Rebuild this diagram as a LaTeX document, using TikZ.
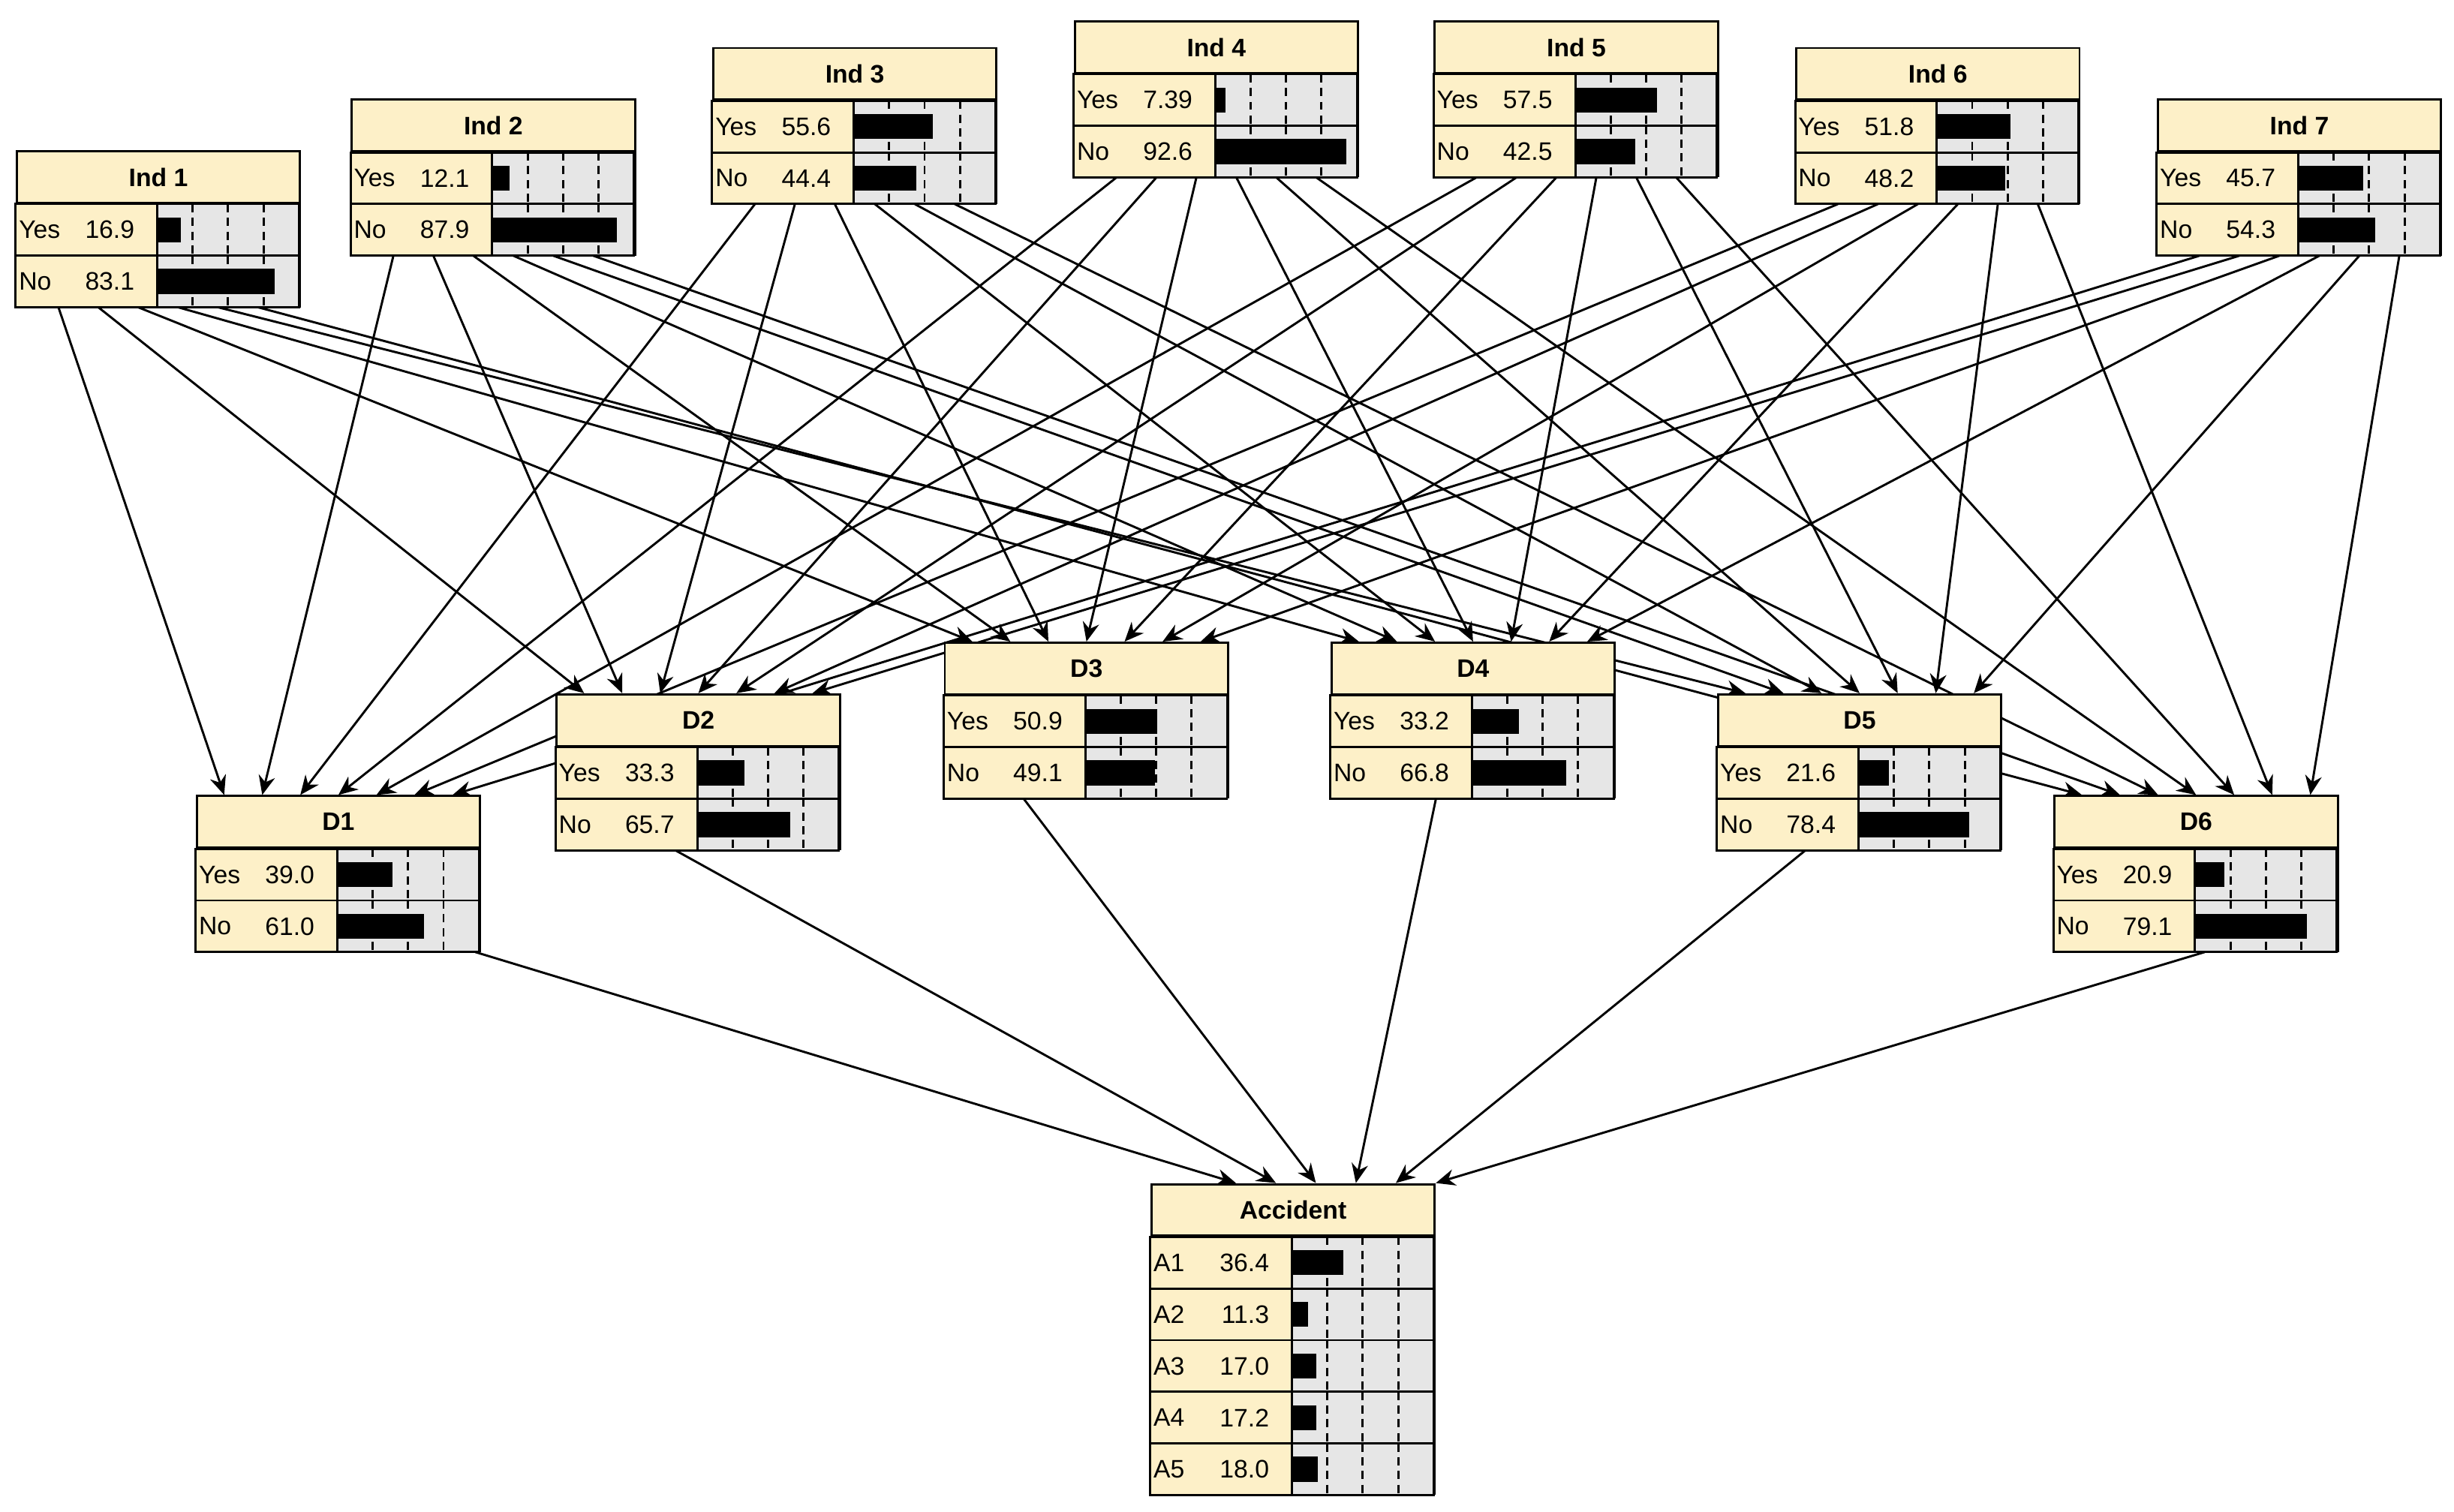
\documentclass[tikz,border=0pt]{standalone}
\usepackage{fontspec}
\setmainfont{Liberation Sans}
\usetikzlibrary{arrows.meta,calc,positioning,backgrounds}
\definecolor{cream}{HTML}{FDF0C8}
\definecolor{bargrey}{HTML}{E6E6E6}
\tikzset{frame/.style={
            draw,
            thick,
            inner sep=0pt,
            anchor=north west,
            minimum width=3.62cm
        },
        header/.style={
            draw,
            thick,
            fill=cream,
            inner sep=0pt,
            anchor=north west,
            minimum width=3.62cm,
            minimum height=0.66cm,
            font=\fontsize{9.2}{10}\selectfont\bfseries
        },
        labcell/.style={
            draw,
            thick,
            fill=cream
        },
        barcell/.style={
            draw,
            thick,
            fill=bargrey
        },
        tick/.style={
            thick,
            dash pattern=on 3pt off 2pt
        },
        txt/.style={
            inner sep=1pt,
            font=\fontsize{9.2}{10}\selectfont
        },
        link/.style={
            thick,
            -{Stealth[length=7pt,width=6pt]}
        }
    }
% name, x, y, title, nrows, rows
\newcommand{\bnnode}[6]{%
    \node[frame, minimum height={(#5+1)*0.66cm}] (#1) at (#2,#3) {};
    \node[header] (#1-h) at (#1.north west) {#4};
    \foreach \lab/\val [count=\k] in {#6} {
        \coordinate (r) at ($(#1-h.south west)+(0,{-(\k-1)*0.66})$);
        \draw[labcell] (r) rectangle ++(1.81,-0.66);
        \draw[barcell] ($(r)+(1.81,0)$) rectangle ++(1.81,-0.66);
        \foreach \t in {0.4525,0.905,1.3575}
            \draw[tick] ($(r)+(1.81+\t,0)$) -- ++(0,-0.66);
        \fill ($(r)+(1.81,-0.17)$) rectangle ++({\val*0.0181},-0.32);
        \node[txt, anchor=west] at ($(r)+(0,-0.33)$) {\lab};
        \node[txt, anchor=east] at ($(r)+(1.56,-0.33)$) {\val};
    }
}

\begin{document}
\begin{tikzpicture}
    \useasboundingbox (0,0) rectangle (31.36,-19.32);

    % indicators
    \bnnode{ind1}{0.20}{-1.92}{Ind 1}{2}{Yes/16.9,No/83.1}
    \bnnode{ind2}{4.48}{-1.26}{Ind 2}{2}{Yes/12.1,No/87.9}
    \bnnode{ind3}{9.10}{-0.60}{Ind 3}{2}{Yes/55.6,No/44.4}
    \bnnode{ind4}{13.72}{-0.26}{Ind 4}{2}{Yes/7.39,No/92.6}
    \bnnode{ind5}{18.32}{-0.26}{Ind 5}{2}{Yes/57.5,No/42.5}
    \bnnode{ind6}{22.94}{-0.60}{Ind 6}{2}{Yes/51.8,No/48.2}
    \bnnode{ind7}{27.56}{-1.26}{Ind 7}{2}{Yes/45.7,No/54.3}

    % dimensions
    \bnnode{d1}{2.50}{-10.16}{D1}{2}{Yes/39.0,No/61.0}
    \bnnode{d2}{7.10}{-8.86}{D2}{2}{Yes/33.3,No/65.7}
    \bnnode{d3}{12.06}{-8.20}{D3}{2}{Yes/50.9,No/49.1}
    \bnnode{d4}{17.00}{-8.20}{D4}{2}{Yes/33.2,No/66.8}
    \bnnode{d5}{21.94}{-8.86}{D5}{2}{Yes/21.6,No/78.4}
    \bnnode{d6}{26.24}{-10.16}{D6}{2}{Yes/20.9,No/79.1}

    % outcome
    \bnnode{acc}{14.70}{-15.12}{Accident}{5}{A1/36.4,A2/11.3,A3/17.0,A4/17.2,A5/18.0}

    \begin{scope}[on background layer]
    \foreach \i in {1,...,7}
        \foreach \j in {1,...,6} {
            \pgfmathsetmacro{\fs}{0.15+0.7*(\j-1)/5}
            \pgfmathsetmacro{\ft}{0.1+0.8*(\i-1)/6}
            \draw[link] ($(ind\i.south west)!\fs!(ind\i.south east)$)
                -- ($(d\j.north west)!\ft!(d\j.north east)$);
        }

    \foreach \j/\fs in {1/0.98,2/0.42,3/0.28,4/0.37,5/0.31,6/0.53} {
        \pgfmathsetmacro{\ft}{0.3+0.7*(\j-1)/5}
        \draw[link] ($(d\j.south west)!\fs!(d\j.south east)$)
            -- ($(acc.north west)!\ft!(acc.north east)$);
    }
    \end{scope}
\end{tikzpicture}
\end{document}
